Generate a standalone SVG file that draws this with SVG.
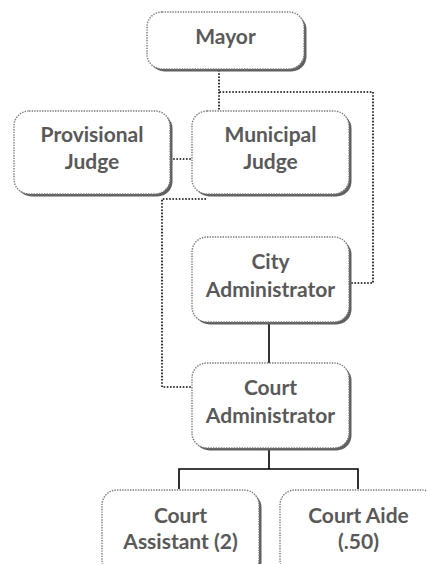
<svg xmlns="http://www.w3.org/2000/svg" width="427" height="564" viewBox="0 0 427 564">
<style>
.sh{fill:#606060}
.bx{fill:#fff;stroke:#7a7a7a;stroke-width:1.4;stroke-dasharray:1.4 1.2}
.t{font-family:Lato,"Open Sans",sans-serif;font-weight:bold;font-size:21px;fill:#595959;text-anchor:middle}
.dot{fill:none;stroke:#000;stroke-width:1.6;stroke-dasharray:1.6 1.6}
.sol{fill:none;stroke:#000;stroke-width:1.6}
</style>
<rect width="427" height="564" fill="#fff"/>
<g id="connectors">
<path class="dot" d="M219,70 V92 H373 V283 H350"/>
<path class="dot" d="M219,92 V111"/>
<path class="dot" d="M170,159 H192"/>
<path class="dot" d="M206,199 H162 V387 H192"/>
<path class="sol" d="M269,322 V363"/>
<path class="sol" d="M269,448 V469 M179,489 V469 H358 V489"/>
</g>
<g id="mayor">
<rect class="sh" x="149.5" y="14.5" width="157" height="57" rx="15"/>
<rect class="bx" x="147" y="12" width="157" height="57" rx="15"/>
<text class="t" x="225.5" y="44">Mayor</text>
</g>
<g id="provisional-judge">
<rect class="sh" x="16.5" y="113.5" width="156" height="83" rx="15"/>
<rect class="bx" x="14" y="111" width="156" height="83" rx="15"/>
<text class="t" x="92" y="142">Provisional</text>
<text class="t" x="92" y="169">Judge</text>
</g>
<g id="municipal-judge">
<rect class="sh" x="194.5" y="113.5" width="157" height="83" rx="15"/>
<rect class="bx" x="192" y="111" width="157" height="83" rx="15"/>
<text class="t" x="270.5" y="142">Municipal</text>
<text class="t" x="270.5" y="169">Judge</text>
</g>
<g id="city-administrator">
<rect class="sh" x="194.5" y="239.5" width="157" height="85" rx="15"/>
<rect class="bx" x="192" y="237" width="157" height="85" rx="15"/>
<text class="t" x="270.5" y="269">City</text>
<text class="t" x="270.5" y="297">Administrator</text>
</g>
<g id="court-administrator">
<rect class="sh" x="194.5" y="365.5" width="157" height="85" rx="15"/>
<rect class="bx" x="192" y="363" width="157" height="85" rx="15"/>
<text class="t" x="270.5" y="395">Court</text>
<text class="t" x="270.5" y="423">Administrator</text>
</g>
<g id="court-assistant">
<rect class="sh" x="104.5" y="492.5" width="157" height="85" rx="15"/>
<rect class="bx" x="102" y="490" width="157" height="85" rx="15"/>
<text class="t" x="180.5" y="523">Court</text>
<text class="t" x="180.5" y="549">Assistant (2)</text>
</g>
<g id="court-aide">
<rect class="sh" x="282.5" y="492.5" width="157" height="85" rx="15"/>
<rect class="bx" x="280" y="490" width="157" height="85" rx="15"/>
<text class="t" x="358.5" y="523">Court Aide</text>
<text class="t" x="358.5" y="549">(.50)</text>
</g>
</svg>
